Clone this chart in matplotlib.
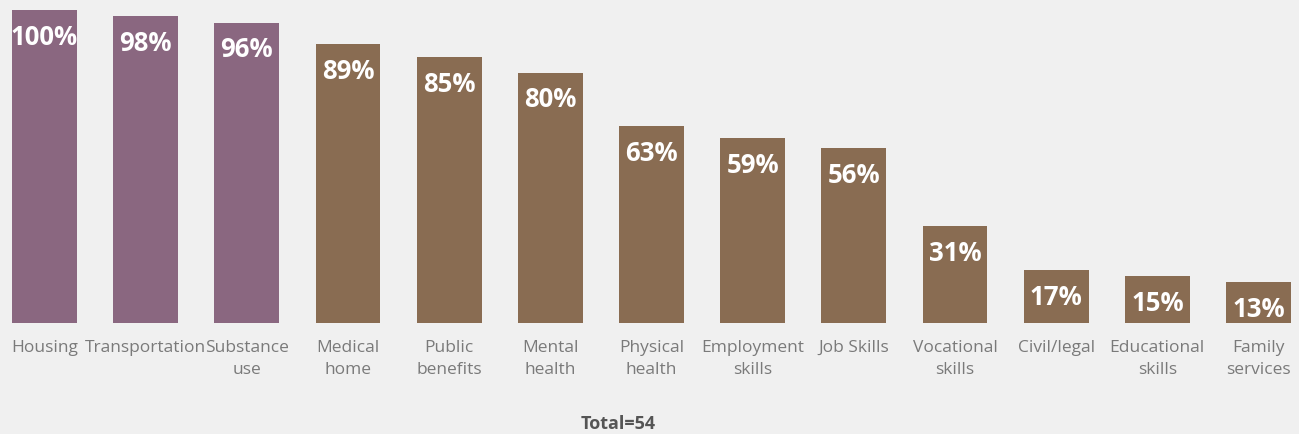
import matplotlib.pyplot as plt
import numpy as np

categorias = ["Housing", "Transportation", "Substance\nuse", "Medical\nhome",
              "Public\nbenefits", "Mental\nhealth", "Physical\nhealth",
              "Employment\nskills", "Job Skills", "Vocational\nskills",
              "Civil/legal", "Educational\nskills", "Family\nservices"]
percentuais = [100, 98, 96, 89, 85, 80, 63, 59, 56, 31, 17, 15, 13]
grupos = ["top"] * 3 + ["rest"] * 10
total = 54

cores = {"top": "#8a6780", "rest": "#896c52"}
fundo = "#f0f0f0"

fig = plt.figure(figsize=(12.99, 4.34), dpi=100, facecolor=fundo)
ax = fig.add_axes([0, 0.2558, 1, 0.7212], facecolor=fundo)

x = np.arange(len(categorias))
largura = 0.64
ax.bar(x, percentuais, largura, color=[cores[g] for g in grupos])

# rótulos de porcentagem dentro do topo das barras
for xi, p in zip(x, percentuais):
    ax.annotate(f"{p}%", (xi, p), xytext=(0, -10), textcoords="offset points",
                ha="center", va="top", color="white", fontsize=18.5,
                fontweight="bold", family="Open Sans")

ax.set_xlim(-0.44, 12.40)
ax.set_ylim(0, 100)
ax.set_xticks(x)
ax.set_xticklabels(categorias, fontsize=12.5, color="#7a7a7a",
                   family="Open Sans", linespacing=1.55)
ax.tick_params(axis="x", length=0, pad=12)
ax.set_yticks([])
for s in ax.spines.values():
    s.set_visible(False)

fig.text(618 / 1299, 1 - 424 / 434, f"Total={total}", ha="center", va="center",
         fontsize=13, fontweight="bold", color="#555555", family="Open Sans")

fig.savefig("out.png", dpi=100, facecolor=fundo)
